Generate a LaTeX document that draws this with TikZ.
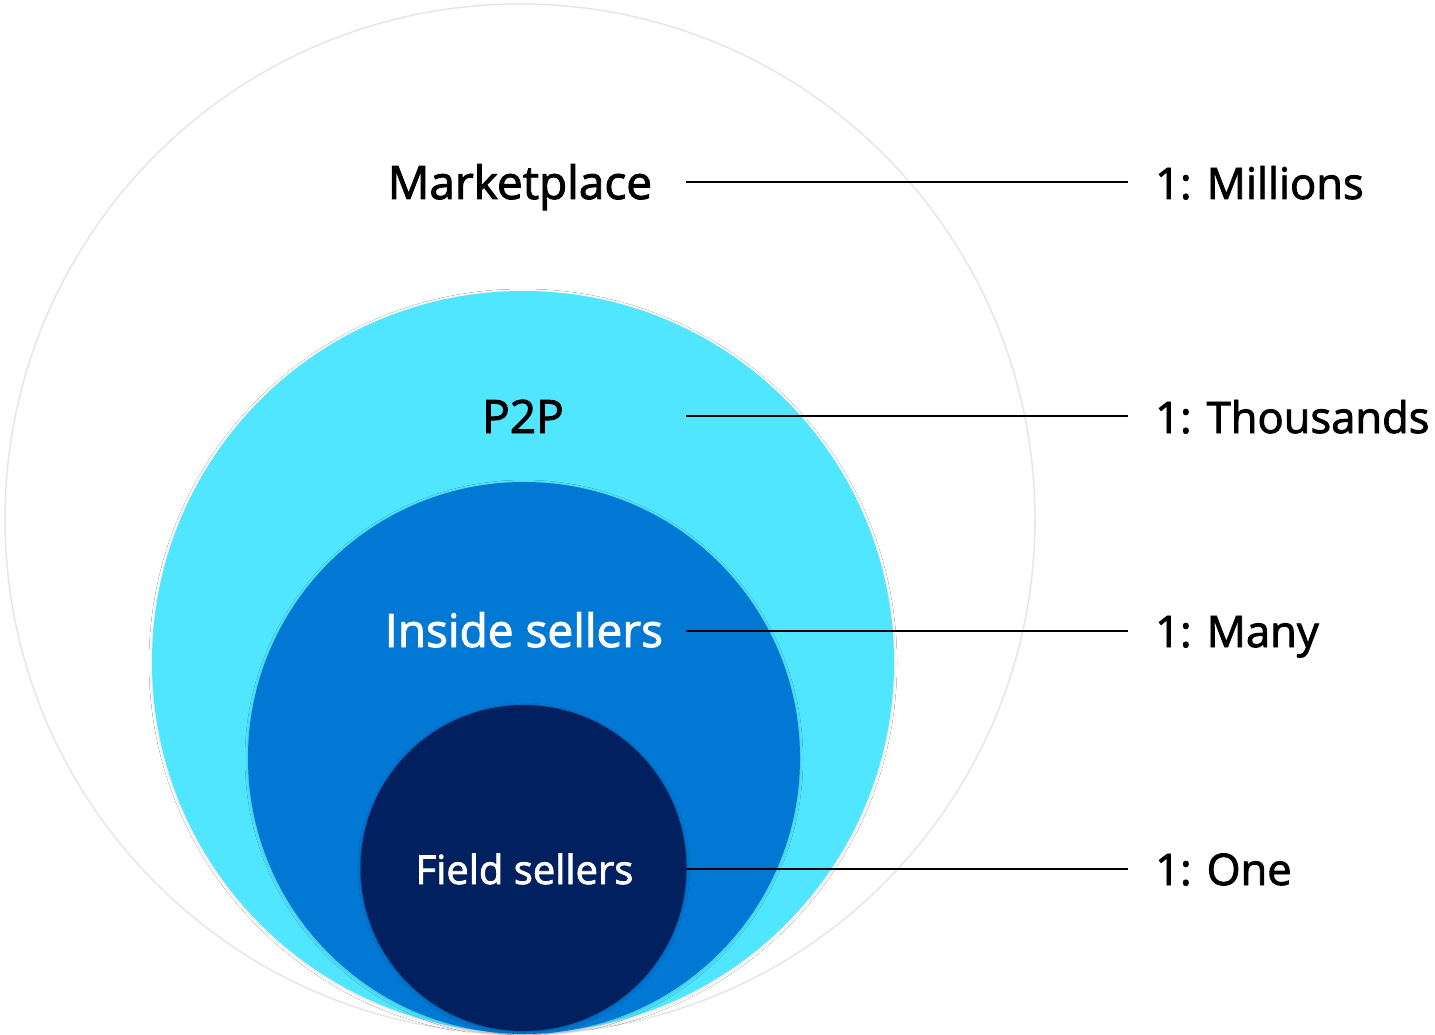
\documentclass[tikz,border=0pt]{standalone}
\usepackage{fontspec}
\setmainfont{Open Sans}[FakeBold=2]
\usetikzlibrary{shadows.blur}
\definecolor{cyanring}{HTML}{50E6FF}
\definecolor{bluering}{HTML}{0078D4}
\definecolor{navyring}{HTML}{002060}
\definecolor{edgegray}{HTML}{E6E6E6}
\begin{document}
\begin{tikzpicture}[x=1pt,y=-1pt,
  ring/.style={circle,inner sep=0pt,outer sep=0pt},
  biglabel/.style={font=\fontsize{46}{50}\selectfont,anchor=base,inner sep=0pt},
  smalllabel/.style={font=\fontsize{40}{44}\selectfont,anchor=base,inner sep=0pt},
  ratio/.style={font=\fontsize{43.5}{50}\selectfont,anchor=base west,inner sep=0pt},
  leader/.style={line width=1.6pt,black,shorten >=27pt}]
\useasboundingbox (0,0) rectangle (1435,1035);
\node[ring,fill=white,draw=edgegray,line width=1.5pt,minimum size=1030pt] (outer) at (520,519) {};
\node[ring,fill=cyanring,minimum size=742pt,blur shadow={shadow xshift=0pt,shadow yshift=-1pt,shadow blur radius=3pt,shadow opacity=15}] (p2p) at (523,662) {};
\node[ring,fill=bluering,minimum size=552pt,blur shadow={shadow xshift=0pt,shadow yshift=-1pt,shadow blur radius=3pt,shadow opacity=20}] (inside) at (524,758) {};
\node[ring,fill=navyring,minimum size=326pt,blur shadow={shadow xshift=0pt,shadow yshift=-1pt,shadow blur radius=3pt,shadow opacity=25}] (field) at (523.5,868) {};
\node[biglabel] (lmarket) at (520,199) {Marketplace};
\node[biglabel] (lp2p) at (523,433) {P2P};
\node[biglabel,text=white] (linside) at (524,647) {Inside sellers};
\node[smalllabel,text=white] (lfield) at (524.5,884) {Field sellers};
\node[ratio] (rmillions) at (1155,199) {1: Millions};
\node[ratio] (rthousands) at (1155,433) {1: Thousands};
\node[ratio] (rmany) at (1155,647) {1: Many};
\node[ratio] (rone) at (1155,885) {1: One};
\coordinate (s1) at (686,182);
\coordinate (s2) at (686,416);
\coordinate (s3) at (686,631);
\coordinate (s4) at (686,869);
\draw[leader] (s1) -- (s1 -| rmillions.west);
\draw[leader] (s2) -- (s2 -| rthousands.west);
\draw[leader] (s3) -- (s3 -| rmany.west);
\draw[leader] (s4) -- (s4 -| rone.west);
\end{tikzpicture}
\end{document}
